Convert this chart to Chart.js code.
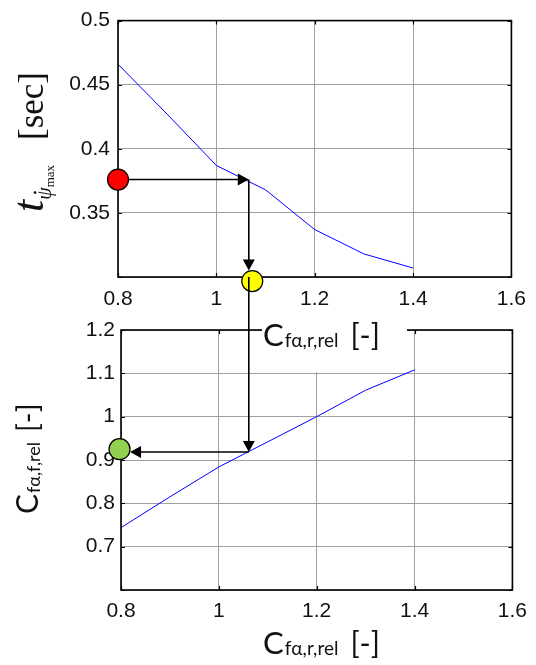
<!DOCTYPE html>
<html><head><meta charset="utf-8">
<script src="https://cdn.jsdelivr.net/npm/chart.js@4.4.0/dist/chart.umd.min.js"></script>
<style>
html,body{margin:0;padding:0;background:#fff;}
#wrap{position:relative;width:536px;height:665px;overflow:hidden;background:#fff;}
#wrap canvas{position:absolute;left:0;top:0;}
</style></head><body>
<div id="wrap"><canvas id="cBottom" width="536" height="665"></canvas><canvas id="cTop" width="536" height="665"></canvas></div>
<script>
// ---------------- data ----------------
const cfRearRel   = [0.8, 0.9, 1.0, 1.1, 1.2, 1.3, 1.4];           // C_fα,r,rel [-]
const tPsiMax     = [0.466, 0.427, 0.387, 0.368, 0.337, 0.318, 0.307]; // t_ψ̇max [sec]
const cfFrontRel  = [0.744, 0.815, 0.884, 0.942, 1.0, 1.061, 1.108];  // C_fα,f,rel [-]
const xTicks      = [0.8, 1, 1.2, 1.4, 1.6];
const yGridTop    = [0.3, 0.35, 0.4, 0.45, 0.5];
const yLabelsTop  = [0.35, 0.4, 0.45, 0.5];
const yGridBottom = [0.6, 0.7, 0.8, 0.9, 1, 1.1, 1.2];
const yLabelsBottom = [0.7, 0.8, 0.9, 1, 1.1, 1.2];
// read-off example (arrows)
const opRear  = 1.066;   // chosen C_fα,r,rel
const opT     = 0.376;   // resulting t_ψ̇max
const opFront = 0.9186;  // resulting C_fα,f,rel
const redPoint    = [0.8, 0.376];
const yellowPoint = [1.073, 0.2968];
const greenPoint  = [0.797, 0.925];

// ---------------- styling ----------------
const TICK_FONT = '"Liberation Sans", Arial, sans-serif';
const LBL_FONT = 'Lato, "Open Sans", sans-serif';
const SERIF = '"Liberation Serif", "Times New Roman", serif';
const GRID = '#a0a0a0';

function fmt(v){ return String(parseFloat(Number(v).toFixed(3))); }

function drawRich(ctx, x, y, segs, rotate){
  ctx.save();
  ctx.translate(x, y);
  if (rotate) ctx.rotate(-Math.PI/2);
  ctx.textBaseline = 'alphabetic'; ctx.textAlign = 'left';
  let cx = 0;
  segs.forEach(s => {
    ctx.font = s.font; ctx.fillStyle = s.color || '#111';
    cx += (s.pre || 0);
    ctx.fillText(s.text, cx, s.dy || 0);
    const w = ctx.measureText(s.text).width;
    if (s.dotAbove){
      ctx.beginPath();
      ctx.arc(cx + w * 0.58, (s.dy || 0) - s.dotAbove, 1.4, 0, Math.PI * 2);
      ctx.fill();
    }
    cx += w;
  });
  ctx.restore();
  return cx;
}

function xLabelSegs(){
  return [
    {text:'C', font:'31px ' + LBL_FONT},
    {text:'fα,r,rel', font:'19px ' + LBL_FONT, dy:1, pre:1},
    {text:'[-]', font:'30px ' + LBL_FONT, pre:12}
  ];
}

const framePlugin = {
  id:'frame',
  afterDraw(chart){
    const {ctx, chartArea:a} = chart;
    const xs = chart.scales.x, ys = chart.scales.y;
    ctx.save();
    ctx.strokeStyle = '#000';
    ctx.lineWidth = 1.2;
    ctx.beginPath();
    xs.ticks.forEach(t => {
      const p = Math.round(xs.getPixelForValue(t.value)) + 0.5;
      ctx.moveTo(p, a.top); ctx.lineTo(p, a.top + 4);
      ctx.moveTo(p, a.bottom); ctx.lineTo(p, a.bottom - 4);
    });
    ys.ticks.forEach(t => {
      const p = Math.round(ys.getPixelForValue(t.value)) + 0.5;
      ctx.moveTo(a.left, p); ctx.lineTo(a.left + 4, p);
      ctx.moveTo(a.right, p); ctx.lineTo(a.right - 4, p);
    });
    ctx.stroke();
    ctx.lineWidth = 1.6;
    ctx.strokeRect(a.left, a.top, a.right - a.left, a.bottom - a.top);
    ctx.restore();
  }
};

function makeOptions(o){
  return {
    responsive:false, animation:false, devicePixelRatio:1,
    layout:{padding:o.padding},
    plugins:{legend:{display:false}, tooltip:{enabled:false}, title:{display:false}},
    scales:{
      x:{
        type:'linear', min:0.8, max:1.6,
        afterBuildTicks: s => { s.ticks = xTicks.map(v => ({value:v})); },
        afterFit: s => { s.height = 40; },
        ticks:{font:{family:TICK_FONT, size:21}, color:'#111', padding:o.xPad, maxRotation:0, autoSkip:false,
               callback: v => fmt(v)},
        grid:{color:GRID, lineWidth:1, drawTicks:false},
        border:{display:false}
      },
      y:{
        type:'linear', min:o.yMin, max:o.yMax,
        afterBuildTicks: s => { s.ticks = o.yGrid.map(v => ({value:v})); },
        afterFit: s => { s.width = o.yW; },
        ticks:{font:{family:TICK_FONT, size:21}, color:'#111', padding:o.yPad, autoSkip:false,
               callback: v => (o.yLabels.indexOf(v) >= 0 ? fmt(v) : '')},
        grid:{color:GRID, lineWidth:1, drawTicks:false},
        border:{display:false}
      }
    }
  };
}

// ---------------- bottom chart ----------------
const bottomLabelPlugin = {
  id:'bottomLabels',
  afterDraw(chart){
    const ctx = chart.ctx;
    // x title
    drawRich(ctx, 263, 654, xLabelSegs(), false);
    // y title
    drawRich(ctx, 38, 514, [
      {text:'C', font:'30px ' + LBL_FONT},
      {text:'fα,f,rel', font:'18px ' + LBL_FONT, dy:2, pre:1},
      {text:'[-]', font:'29px ' + LBL_FONT, pre:10}
    ], true);
  }
};

const chartBottom = new Chart(document.getElementById('cBottom'), {
  type:'line',
  data:{datasets:[{
    data: cfRearRel.map((x, i) => ({x:x, y:cfFrontRel[i]})),
    borderColor:'#0000ff', borderWidth:1, pointRadius:0, tension:0, fill:false
  }]},
  options: makeOptions({padding:{top:330, right:20, bottom:35, left:0}, yMin:0.6, yMax:1.2,
    yGrid:yGridBottom, yLabels:yLabelsBottom, yW:121, xPad:9, yPad:6}),
  plugins:[framePlugin, bottomLabelPlugin]
});

// ---------------- top chart + read-off overlay ----------------
function arrowHead(ctx, x, y, dir){
  const L = 11, W = 6;
  ctx.beginPath();
  if (dir === 'right'){ ctx.moveTo(x, y); ctx.lineTo(x - L, y - W); ctx.lineTo(x - L, y + W); }
  if (dir === 'left'){ ctx.moveTo(x, y); ctx.lineTo(x + L, y - W); ctx.lineTo(x + L, y + W); }
  if (dir === 'down'){ ctx.moveTo(x, y); ctx.lineTo(x - W, y - L); ctx.lineTo(x + W, y - L); }
  ctx.closePath(); ctx.fill();
}
function seg(ctx, x1, y1, x2, y2){ ctx.beginPath(); ctx.moveTo(x1, y1); ctx.lineTo(x2, y2); ctx.stroke(); }
function dot(ctx, x, y, r, col){
  ctx.beginPath(); ctx.arc(x, y, r, 0, Math.PI*2); ctx.fillStyle = col; ctx.fill();
  ctx.lineWidth = 1.2; ctx.strokeStyle = '#000'; ctx.stroke();
}

const overlayPlugin = {
  id:'overlay',
  afterDraw(chart){
    const ctx = chart.ctx;
    const xs1 = chart.scales.x, ys1 = chart.scales.y;
    const xs2 = chartBottom.scales.x, ys2 = chartBottom.scales.y;

    // top y title  t_{ψ̇ max} [sec]
    drawRich(ctx, 43, 212, [
      {text:'t', font:'italic 44px ' + SERIF},
      {text:'ψ', font:'italic 20px ' + SERIF, dy:8, pre:0, dotAbove:16},
      {text:'max', font:'13px ' + SERIF, dy:11}
    ], true);
    drawRich(ctx, 43, 140, [
      {text:'[sec]', font:'35px ' + SERIF}
    ], true);

    // top x title with white background (sits over bottom chart's frame)
    ctx.save();
    ctx.fillStyle = '#fff';
    ctx.fillRect(262, 312, 145, 60);
    ctx.restore();
    drawRich(ctx, 263, 346, xLabelSegs(), false);

    // read-off arrows
    const R = 10.5;
    const xl = xs1.getPixelForValue(opRear);
    const yT = ys1.getPixelForValue(opT);
    const red = {x:xs1.getPixelForValue(redPoint[0]), y:ys1.getPixelForValue(redPoint[1])};
    const yel = {x:xs1.getPixelForValue(yellowPoint[0]), y:ys1.getPixelForValue(yellowPoint[1])};
    const yB = ys2.getPixelForValue(opFront);
    const grn = {x:xs2.getPixelForValue(greenPoint[0]), y:ys2.getPixelForValue(greenPoint[1])};

    ctx.save();
    ctx.strokeStyle = '#000'; ctx.fillStyle = '#000'; ctx.lineWidth = 1.6;
    seg(ctx, red.x, yT, xl - 10, yT); arrowHead(ctx, xl, yT, 'right');
    seg(ctx, xl, yT, xl, yel.y - R - 10); arrowHead(ctx, xl, yel.y - R, 'down');
    dot(ctx, red.x, red.y, R, '#ff0000');
    dot(ctx, yel.x, yel.y, R, '#ffff00');
    ctx.strokeStyle = '#000'; ctx.fillStyle = '#000'; ctx.lineWidth = 1.6;
    seg(ctx, xl, chart.chartArea.bottom, xl, yB - 10); arrowHead(ctx, xl, yB, 'down');
    seg(ctx, xl, yB, grn.x + R + 10, yB); arrowHead(ctx, grn.x + R, yB, 'left');
    dot(ctx, grn.x, grn.y, R, '#92d050');
    ctx.restore();
  }
};

const chartTop = new Chart(document.getElementById('cTop'), {
  type:'line',
  data:{datasets:[{
    data: cfRearRel.map((x, i) => ({x:x, y:tPsiMax[i]})),
    borderColor:'#0000ff', borderWidth:1, pointRadius:0, tension:0, fill:false
  }]},
  options: makeOptions({padding:{top:17, right:24, bottom:348, left:0}, yMin:0.3, yMax:0.5,
    yGrid:yGridTop, yLabels:yLabelsTop, yW:118, xPad:10, yPad:8}),
  plugins:[framePlugin, overlayPlugin]
});
</script>
</body></html>
